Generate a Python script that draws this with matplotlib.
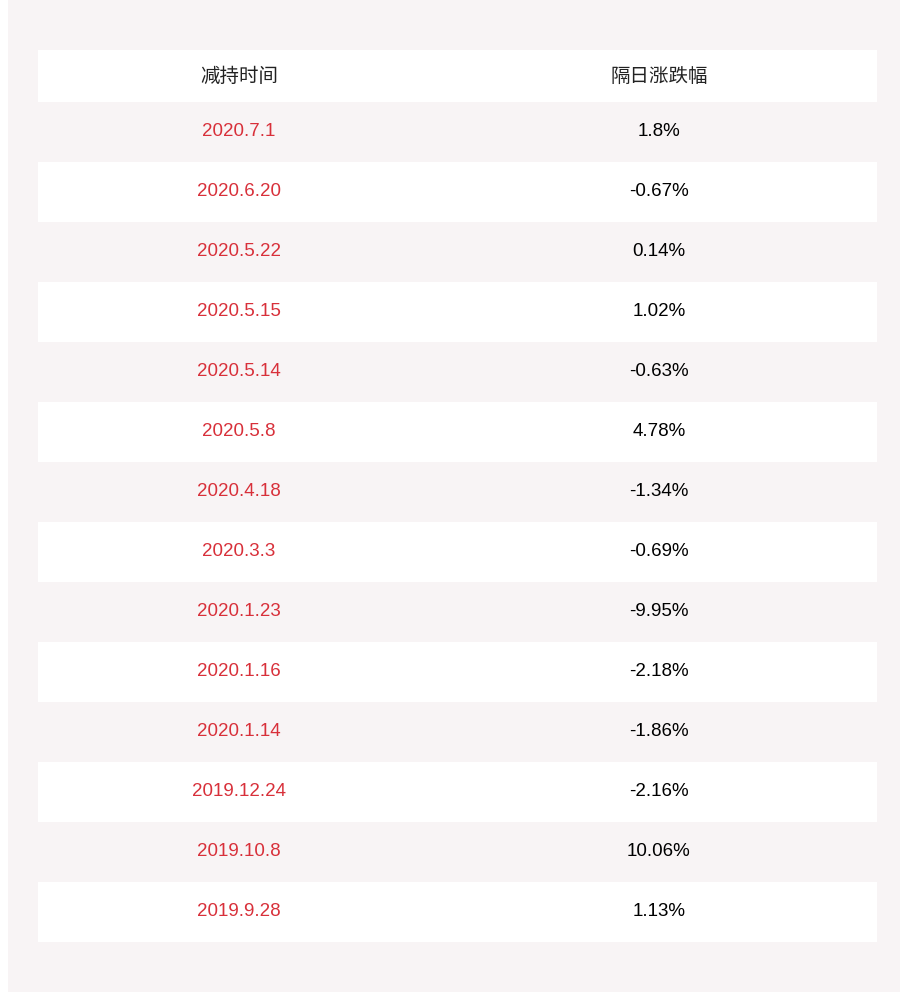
import matplotlib.pyplot as plt
from matplotlib.patches import Rectangle

plt.rcParams['font.family'] = ['Noto Sans CJK SC', 'DejaVu Sans']

headers = ['减持时间', '隔日涨跌幅']
dates = ['2020.7.1', '2020.6.20', '2020.5.22', '2020.5.15', '2020.5.14', '2020.5.8',
         '2020.4.18', '2020.3.3', '2020.1.23', '2020.1.16', '2020.1.14',
         '2019.12.24', '2019.10.8', '2019.9.28']
changes = ['1.8%', '-0.67%', '0.14%', '1.02%', '-0.63%', '4.78%', '-1.34%',
           '-0.69%', '-9.95%', '-2.18%', '-1.86%', '-2.16%', '10.06%', '1.13%']

BG = '#f8f4f5'
RED = '#d8303a'

fig = plt.figure(figsize=(9, 9.92), dpi=100)
ax = fig.add_axes([0, 0, 1, 1])
ax.set_xlim(0, 900)
ax.set_ylim(992, 0)
ax.axis('off')

ax.add_patch(Rectangle((8, 0), 892, 992, facecolor=BG, edgecolor='none'))

left, right = 38, 877
col1, col2 = 239, 659
ax.add_patch(Rectangle((left, 50), right - left, 52, facecolor='white', edgecolor='none'))
for x, h in zip([col1, col2], headers):
    ax.text(x, 76, h, ha='center', va='center', fontsize=14, color='#222222')

for i, (d, c) in enumerate(zip(dates, changes)):
    y0 = 102 + i * 60
    if i % 2 == 1:
        ax.add_patch(Rectangle((left, y0), right - left, 60, facecolor='white', edgecolor='none'))
    ax.text(col1, y0 + 30, d, ha='center', va='center', fontsize=13.5,
            color=RED, family=['Liberation Sans', 'DejaVu Sans'])
    ax.text(col2, y0 + 30, c, ha='center', va='center', fontsize=13.5,
            color='black', family=['Liberation Sans', 'DejaVu Sans'])

fig.savefig('out.png', dpi=100, facecolor='white')
